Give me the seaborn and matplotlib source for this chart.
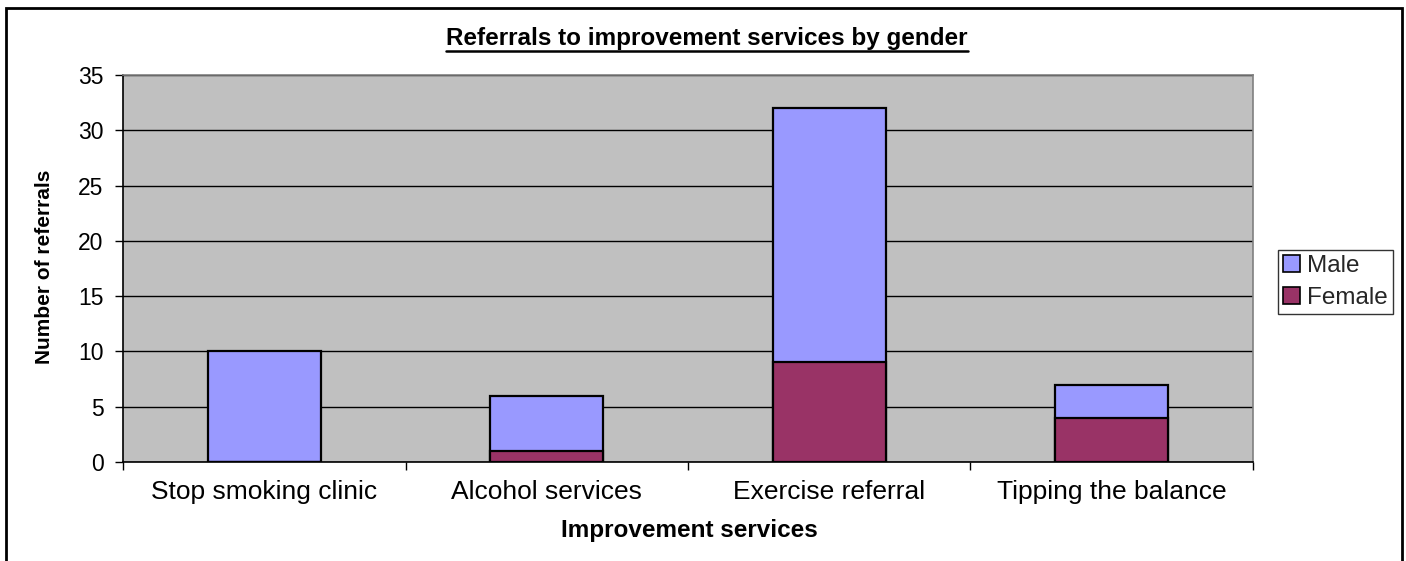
import matplotlib
matplotlib.use("Agg")
import matplotlib.pyplot as plt
import matplotlib.patches as mpatches
from matplotlib.lines import Line2D
import seaborn as sns
import pandas as pd

categories = ["Stop smoking clinic", "Alcohol services", "Exercise referral", "Tipping the balance"]
male = [10, 5, 23, 3]
female = [0, 1, 9, 4]
series_names = ["Male", "Female"]
yticks = [0, 5, 10, 15, 20, 25, 30, 35]

male_color = "#9999FF"
female_color = "#993366"

sns.set_theme(style="white")
plt.rcParams["font.family"] = ["Liberation Sans", "DejaVu Sans"]

df = pd.DataFrame({"category": categories, "male": male, "female": female})
df["total"] = df["male"] + df["female"]

fig = plt.figure(figsize=(14.06, 5.61), dpi=100)
fig.patch.set_facecolor("white")
ax = fig.add_axes([123/1406, 1-462/561, (1253-123)/1406, (462-75)/561])
ax.set_facecolor("#C0C0C0")

sns.barplot(data=df, x="category", y="total", color=male_color, width=0.4,
            edgecolor="black", linewidth=1.6, saturation=1, ax=ax, zorder=3)
sns.barplot(data=df, x="category", y="female", color=female_color, width=0.4,
            edgecolor="black", linewidth=1.6, saturation=1, ax=ax, zorder=3)

ax.set_ylim(0, 35)
ax.set_xlim(-0.5, 3.5)
ax.set_yticks(yticks)
ax.yaxis.grid(True, color="black", linewidth=1.0, zorder=1)
ax.set_axisbelow(True)
ax.tick_params(axis="y", direction="out", length=6, width=1, color="black",
               labelsize=16.5, pad=8, left=True)
ax.set_xticks(range(len(categories)))
ax.set_xticklabels(categories)
ax.set_xticks([-0.5, 0.5, 1.5, 2.5, 3.5], minor=True)
ax.tick_params(axis="x", which="major", length=0, labelsize=19, pad=13)
ax.tick_params(axis="x", which="minor", direction="out", length=6, width=1,
               color="black", bottom=True)
for lab in ax.get_yticklabels() + ax.get_xticklabels():
    lab.set_color("black")

for s in ["top", "right"]:
    ax.spines[s].set_color("#808080")
    ax.spines[s].set_linewidth(1.2)
for s in ["left", "bottom"]:
    ax.spines[s].set_color("black")
    ax.spines[s].set_linewidth(1.2)

ax.set_xlabel("")
ax.set_ylabel("")
fig.text(689/1406, 1-530/561, "Improvement services", ha="center", va="center",
         fontsize=17.5, fontweight="bold", color="black")
fig.text(45/1406, 1-267/561, "Number of referrals", ha="center", va="center",
         rotation=90, fontsize=15, fontweight="bold", color="black")

title = fig.text(707/1406, 1-38/561, "Referrals to improvement services by gender",
                 ha="center", va="center", fontsize=17.5, fontweight="bold", color="black")

handles = [mpatches.Patch(facecolor=male_color, edgecolor="black", linewidth=1.2, label=series_names[0]),
           mpatches.Patch(facecolor=female_color, edgecolor="black", linewidth=1.2, label=series_names[1])]
leg = fig.legend(handles=handles, loc="center", bbox_to_anchor=(1335.5/1406, 1-282/561),
                 frameon=True, fancybox=False, fontsize=17.5, handlelength=0.7, handleheight=0.7,
                 handletextpad=0.3, borderpad=0.2, labelspacing=0.45, borderaxespad=0)
leg.get_frame().set_edgecolor("black")
leg.get_frame().set_linewidth(1.0)

# underline title
fig.canvas.draw()
bb = title.get_window_extent()
x0, x1 = bb.x0 / 1406, bb.x1 / 1406
yline = (bb.y0 - 1) / 561
fig.add_artist(Line2D([x0, x1], [yline, yline], color="black", linewidth=1.8,
                      transform=fig.transFigure))

# chart border
fig.add_artist(mpatches.Rectangle((6/1406, -0.02), (1402-6)/1406, (561-8)/561 + 0.02,
                                  transform=fig.transFigure, fill=False,
                                  edgecolor="black", linewidth=2, clip_on=False))

fig.savefig("out.png", dpi=100)
